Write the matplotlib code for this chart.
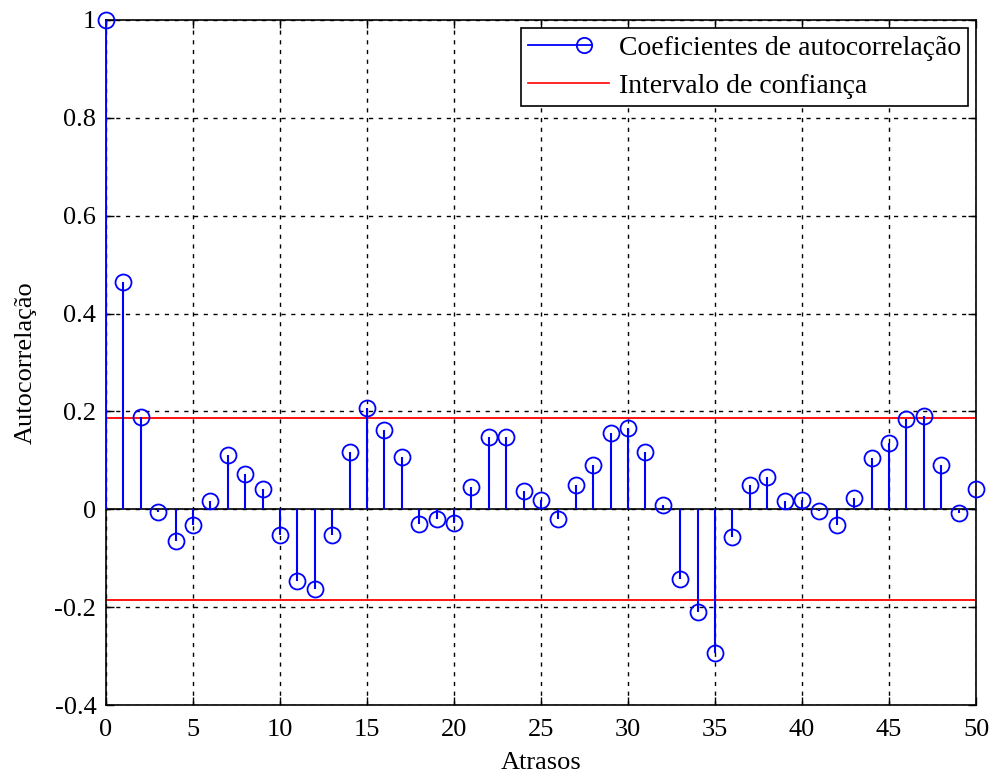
import matplotlib
matplotlib.use("Agg")
import matplotlib.pyplot as plt
from matplotlib.legend_handler import HandlerBase
from matplotlib.lines import Line2D
import numpy as np

lags = list(range(51))
acf = [1.0, 0.465, 0.188, -0.006, -0.065, -0.033, 0.016, 0.110, 0.073, 0.041,
       -0.053, -0.147, -0.163, -0.053, 0.118, 0.208, 0.163, 0.106, -0.031, -0.020,
       -0.029, 0.045, 0.147, 0.147, 0.037, 0.018, -0.020, 0.049, 0.090, 0.155,
       0.167, 0.118, 0.008, -0.143, -0.210, -0.294, -0.057, 0.049, 0.065, 0.016,
       0.020, -0.004, -0.033, 0.024, 0.104, 0.135, 0.184, 0.190, 0.090, -0.008,
       0.041]
conf_limit = 0.186
xticks = [0, 5, 10, 15, 20, 25, 30, 35, 40, 45, 50]
yticks = [-0.4, -0.2, 0, 0.2, 0.4, 0.6, 0.8, 1]
ytick_labels = ["-0.4", "-0.2", "0", "0.2", "0.4", "0.6", "0.8", "1"]

plt.rcParams["font.family"] = ["Liberation Serif", "DejaVu Serif"]
plt.rcParams["font.size"] = 19


class StemHandler(HandlerBase):
    # line with the open circle sitting at its right end, like MATLAB's stem legend
    def create_artists(self, legend, orig_handle, xdescent, ydescent,
                       width, height, fontsize, trans):
        y = height / 2 - ydescent
        line = Line2D([-xdescent, width - xdescent - 12], [y, y], color="blue", lw=1.3)
        mark = Line2D([width - xdescent - 18], [y], marker="o", markersize=11,
                      markerfacecolor="none", markeredgecolor="blue", mew=1.3, ls="none")
        line.set_transform(trans)
        mark.set_transform(trans)
        return [line, mark]


fig = plt.figure(figsize=(9.91, 7.78), dpi=100)
ax = fig.add_axes([106 / 991, 1 - 705 / 778, 870 / 991, 685 / 778])

ax.vlines(lags, 0, acf, colors="blue", lw=1.5, zorder=3)
ax.plot(lags, acf, ls="none", marker="o", markersize=11.5, markerfacecolor="none",
        markeredgecolor="blue", mew=1.3, zorder=4, clip_on=False)
ax.axhline(0, color="black", lw=1.2, zorder=2)
ax.axhline(conf_limit, color="red", lw=1.3, zorder=2)
ax.axhline(-conf_limit, color="red", lw=1.3, zorder=2)

ax.set_xlim(0, 50)
ax.set_ylim(-0.4, 1)
ax.set_xticks(xticks)
ax.set_yticks(yticks)
ax.set_yticklabels(ytick_labels)
ax.tick_params(direction="in", top=True, right=True, length=6, width=1)
ax.tick_params(axis="x", pad=10)
ax.tick_params(axis="y", pad=7)
ax.grid(True, color="black", ls=(0, (3, 4)), lw=1)
ax.set_axisbelow(True)
for s in ax.spines.values():
    s.set_linewidth(1.2)

ax.set_xlabel("Atrasos", labelpad=8)
ax.set_ylabel("Autocorrelação", labelpad=13)

stem_proxy = Line2D([], [], color="blue")
conf_proxy = Line2D([], [], color="red", lw=1.2)
leg = ax.legend([stem_proxy, conf_proxy],
                ["Coeficientes de autocorrelação", "Intervalo de confiança"],
                handler_map={stem_proxy: StemHandler()},
                loc="upper right", fontsize=20, fancybox=False, framealpha=1,
                edgecolor="black", handlelength=2.9, handletextpad=0.35,
                borderaxespad=0.3, labelspacing=0.45, borderpad=0.25)
leg.get_frame().set_linewidth(1.2)

fig.savefig("out.png", dpi=100)
